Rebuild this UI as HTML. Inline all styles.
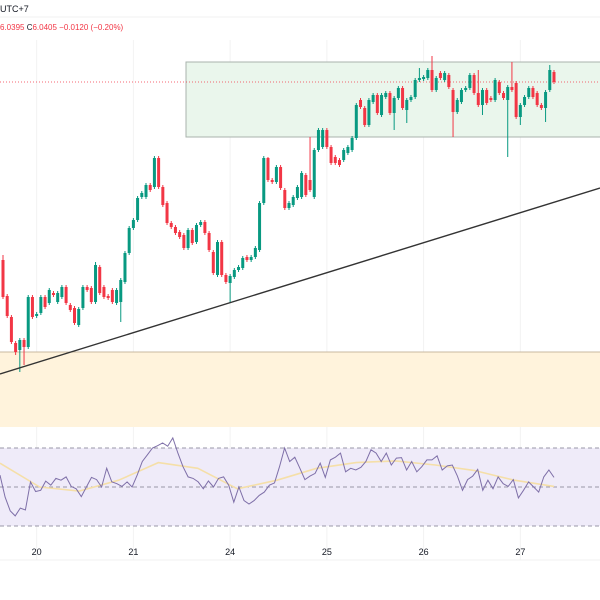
<!DOCTYPE html>
<html><head><meta charset="utf-8"><style>
html,body{margin:0;padding:0;background:#fff;width:600px;height:600px;overflow:hidden;font-family:"Liberation Sans",sans-serif}
svg{display:block}
</style></head><body>
<svg id="chart" width="600" height="600" viewBox="0 0 600 600" xmlns="http://www.w3.org/2000/svg">
<text x="0" y="12" font-size="9" fill="#131722">UTC+7</text>
<line x1="0" y1="17" x2="600" y2="17" stroke="#f0f0f0"/>
<text x="0" y="30" font-size="8" fill="#f23645">6.0395 <tspan fill="#131722">C</tspan>6.0405  −0.0120 (−0.20%)</text>
<g id="grid"></g>
<rect x="0" y="352" width="600" height="75" fill="#fff3dc"/>
<line x1="0" y1="352" x2="600" y2="352" stroke="#c9b8a0"/>
<rect x="186" y="62" width="420" height="75" fill="#eaf6ec" stroke="#a9b3ad" stroke-width="1"/>
<line x1="0" y1="82" x2="600" y2="82" stroke="#f23645" stroke-width="0.8" stroke-dasharray="1,2"/>
<g id="candles"></g>
<line x1="0" y1="374" x2="600" y2="188" stroke="#333" stroke-width="1.4"/>
<rect x="0" y="448" width="600" height="78" fill="#efebf9"/>
<line x1="0" y1="448" x2="600" y2="448" stroke="#9a97a8" stroke-dasharray="4,3"/>
<line x1="0" y1="487" x2="600" y2="487" stroke="#9a97a8" stroke-dasharray="4,3"/>
<line x1="0" y1="526" x2="600" y2="526" stroke="#9a97a8" stroke-dasharray="4,3"/>
<g id="rsi"></g>
<line x1="0" y1="560" x2="600" y2="560" stroke="#f0f0f0"/>
<g id="xaxis"></g>
</svg>
<script>
const opens=[5.840,5.804,5.783,5.757,5.750,5.760,5.753,5.803,5.784,5.787,5.803,5.797,5.807,5.798,5.803,5.813,5.795,5.792,5.775,5.792,5.813,5.812,5.798,5.833,5.813,5.804,5.810,5.797,5.798,5.818,5.847,5.872,5.880,5.903,5.903,5.915,5.913,5.942,5.913,5.897,5.877,5.873,5.868,5.865,5.852,5.870,5.858,5.875,5.878,5.867,5.848,5.825,5.858,5.825,5.817,5.823,5.830,5.832,5.843,5.840,5.843,5.850,5.897,5.942,5.920,5.918,5.933,5.910,5.892,5.895,5.902,5.903,5.925,5.920,5.903,5.950,5.953,5.970,5.953,5.943,5.940,5.940,5.947,5.950,5.962,6.000,5.992,5.975,5.998,6.005,5.985,6.003,6.007,5.987,6.002,6.012,5.990,6.000,6.003,6.020,6.021,6.022,6.030,6.010,6.027,6.020,6.025,6.010,5.988,5.998,6.010,6.012,6.025,6.007,5.995,6.010,6.002,6.000,6.018,6.007,6.000,6.013,6.017,5.983,5.995,6.003,6.012,6.007,5.995,5.992,6.010,6.028];
const closes=[5.803,5.784,5.758,5.748,5.760,5.753,5.803,5.783,5.786,5.803,5.793,5.810,5.805,5.807,5.813,5.797,5.790,5.777,5.791,5.813,5.810,5.798,5.835,5.807,5.803,5.802,5.798,5.810,5.820,5.847,5.872,5.880,5.902,5.907,5.915,5.910,5.942,5.913,5.895,5.877,5.873,5.867,5.863,5.852,5.870,5.857,5.875,5.878,5.867,5.850,5.827,5.858,5.825,5.818,5.824,5.830,5.833,5.842,5.840,5.843,5.852,5.897,5.942,5.920,5.918,5.933,5.912,5.892,5.897,5.903,5.913,5.927,5.905,5.910,5.950,5.970,5.970,5.953,5.937,5.937,5.935,5.950,5.953,5.962,5.995,5.993,5.975,6.000,6.005,5.987,6.005,6.007,5.987,6.002,6.012,5.992,6.000,6.003,6.020,6.022,6.023,6.030,6.010,6.022,6.022,6.027,6.013,5.988,6.000,6.010,6.012,6.025,6.007,5.995,6.010,5.997,6.000,6.020,6.007,6.002,6.013,6.010,5.983,5.995,6.003,6.012,6.003,5.995,5.992,6.008,6.030,6.018];
const highOverrides={0:5.845,22:5.838,36:5.944,37:5.944,62:5.944,63:5.943,73:5.963,102:6.044,121:6.038,130:6.035,99:6.032,113:6.030};
const lowOverrides={3:5.745,4:5.728,5:5.735,28:5.778,54:5.797,93:5.970,96:5.977,107:5.963,120:5.943,114:5.985,123:5.975,129:5.978};
const rsiValues=[56.1,44.8,37.8,35.2,39.2,38.2,52.6,47.7,48.3,53.0,50.9,54.4,53.5,55.2,50.3,49.1,45.1,50,54.9,53.8,50,59.6,52.6,51.7,50.3,52.6,50,56.1,63.1,66.5,70.0,71.2,72.6,70.9,75.2,67.4,60.4,55.2,54.4,52.6,49.1,53.1,50,54.4,55.2,50.9,42.2,50,43.0,41.3,43.0,45.7,47.4,50.9,52.1,60.4,70.0,63.1,65.3,59.6,53.8,55.6,57.0,62.2,54.9,63.9,65.3,67.4,57.8,59.6,58.7,60.1,63.1,69.1,67.4,63.1,67.4,61.3,64.8,65.1,58.7,63.1,57.8,60.4,63.9,63.9,66.0,58.7,60.8,61.3,55.6,48.3,53.8,55.6,59.0,48.3,53.5,49.1,55.2,51.7,50.3,53.8,44.4,48.3,52.6,50,47.4,55.2,58.7,54.9];
const rsiMA=[62.2,50,47.9,53.5,62.5,59.6,49.1,53.5,59.6,62.5,63.4,61.3,58.4,53.5,50.3];
const dateLabels=["20","21","24","25","26","27"];
const dateCandleIdx=[8,31,54,77,100,123];

const NS="http://www.w3.org/2000/svg";
const x0=3, step=4.206;
const xOf=i=>x0+i*step;
const yP=p=>(6.1-p)*1000;
const yR=v=>487-(v-50)*39/20;
function mk(t,a,parent){const e=document.createElementNS(NS,t);for(const k in a)e.setAttribute(k,a[k]);parent.appendChild(e);return e;}
const grid=document.getElementById('grid'), cg=document.getElementById('candles'), rg=document.getElementById('rsi'), xg=document.getElementById('xaxis');
dateCandleIdx.forEach((ci,k)=>{
  const x=xOf(ci);
  const gl=mk('line',{x1:x,y1:40,x2:x,y2:560,stroke:'#f2f2f2'},grid);
  
  
  const t=mk('text',{x:x,y:555,'font-size':9,fill:'#131722','text-anchor':'middle'},xg);
  t.textContent=dateLabels[k];
  
  
});
opens.forEach((o,i)=>{
  const c=closes[i];
  const up=c>=o, col=up?'#089981':'#f23645';
  const hi=highOverrides[i]!==undefined?highOverrides[i]:Math.max(o,c)+0.002;
  const lo=lowOverrides[i]!==undefined?lowOverrides[i]:Math.min(o,c)-0.002;
  const x=xOf(i);
  const w=mk('line',{x1:x,x2:x,y1:yP(hi),y2:yP(lo),stroke:col,'stroke-width':1},cg);
  
  
  const top=yP(Math.max(o,c)), h=Math.max(1,Math.abs(yP(o)-yP(c)));
  const b=mk('rect',{x:x-1.5,y:top,width:3,height:h,fill:col},cg);
  
  
});
const lastX=xOf(opens.length-1);
const maPts=rsiMA.map((v,j)=>(j*lastX/(rsiMA.length-1)).toFixed(1)+','+yR(v).toFixed(1)).join(' ');
const ma=mk('polyline',{points:maPts,fill:'none',stroke:'#f5dfa8','stroke-width':1.6,'stroke-linejoin':'round'},rg);


const rPts=rsiValues.map((v,j)=>(j*lastX/(rsiValues.length-1)).toFixed(1)+','+yR(v).toFixed(1)).join(' ');
const rl=mk('polyline',{points:rPts,fill:'none',stroke:'#7e6fa8','stroke-width':1},rg);


</script>
</body></html>
